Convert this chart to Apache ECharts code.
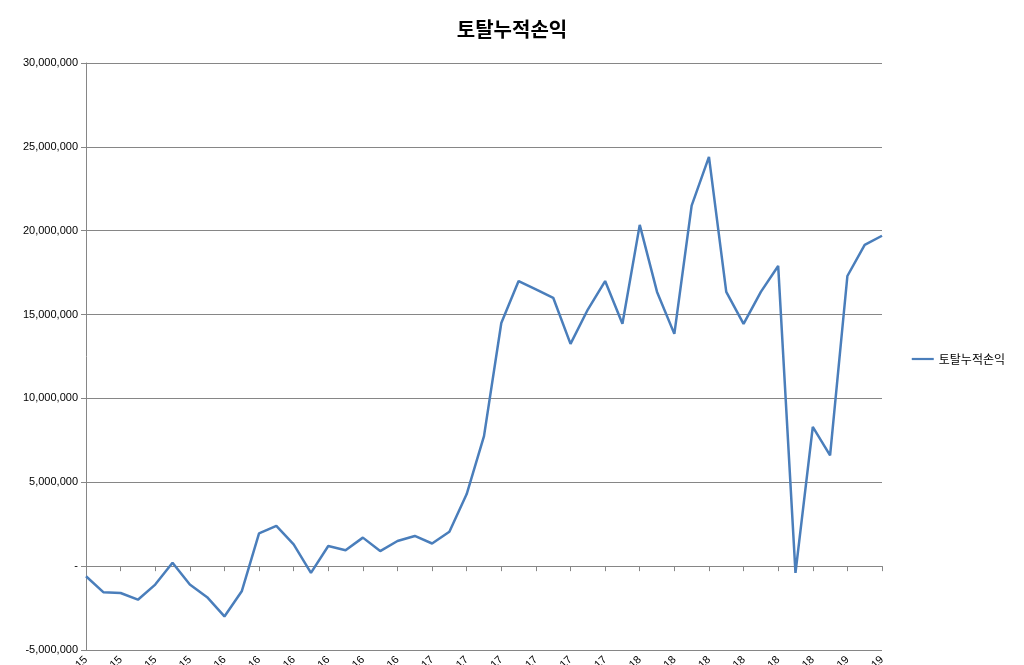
<!DOCTYPE html><html><head><meta charset="utf-8"><script src="https://cdn.jsdelivr.net/npm/echarts@6/dist/echarts.min.js"></script>
<style>html,body{margin:0;background:#fff}#c{width:1024px;height:665px}</style></head><body><div id="c"></div><script>
const months=['Jan','Feb','Mar','Apr','May','Jun','Jul','Aug','Sep','Oct','Nov','Dec'];
const categories=[];for(let y=15,m=4;categories.length<47;){categories.push(months[m]+'-'+y);m++;if(m>11){m=0;y++;}}
const values=[-0.6,-1.55,-1.6,-2.0,-1.1,0.2,-1.1,-1.85,-3.0,-1.5,1.95,2.4,1.3,-0.4,1.2,0.95,1.7,0.9,1.5,1.8,1.35,2.05,4.3,7.75,14.5,17.0,16.5,16.0,13.25,15.3,17.0,14.45,20.35,16.35,13.85,21.5,24.4,16.35,14.45,16.35,17.9,-0.4,8.3,6.6,17.3,19.15,19.7].map(v=>Math.round(v*1e6));
const seriesName='토탈누적손익';
const c=echarts.init(document.getElementById('c'));
c.setOption({animation:false,
title:{text:seriesName,left:'center',top:14,textStyle:{fontFamily:'Noto Sans CJK KR',fontSize:20,fontWeight:'bold',color:'#000'}},
legend:{right:14,top:348,orient:'vertical',icon:'path://M0,0H30V3H0Z',itemWidth:22,itemHeight:3,textStyle:{fontFamily:'Noto Sans CJK KR',fontSize:12,color:'#000'},data:[seriesName]},
grid:{left:86,right:142,top:63,bottom:15,containLabel:false,outerBoundsMode:'none'},
xAxis:{type:'category',data:categories,boundaryGap:false,axisLine:{onZero:true,lineStyle:{color:'#868686'}},axisTick:{interval:1,lineStyle:{color:'#868686'}},
axisLabel:{interval:1,rotate:45,color:'#000',fontFamily:'Liberation Sans',fontSize:11,hideOverlap:false}},
yAxis:{type:'value',min:-5000000,max:30000000,interval:5000000,axisLine:{show:true,lineStyle:{color:'#868686'}},axisTick:{show:true,lineStyle:{color:'#868686'}},
splitLine:{lineStyle:{color:'#868686'}},axisLabel:{color:'#000',fontFamily:'Liberation Sans',fontSize:11,formatter:v=>v===0?'-':v.toLocaleString('en-US')}},
series:[{name:seriesName,type:'line',data:values,symbol:'none',lineStyle:{color:'#4a7ebb',width:2.5},itemStyle:{color:'#4a7ebb'}}]});
</script></body></html>
